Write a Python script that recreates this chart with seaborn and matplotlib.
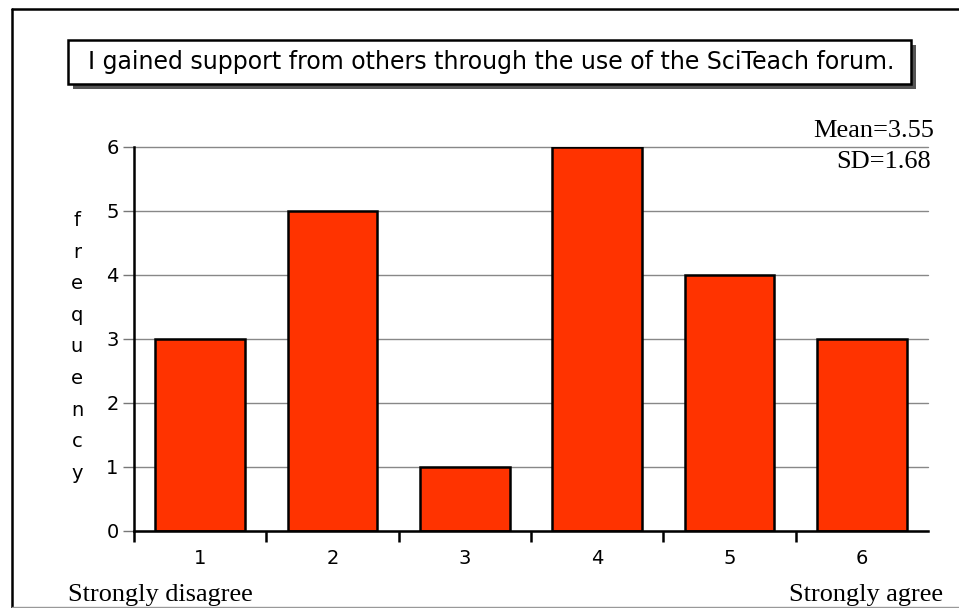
import matplotlib
matplotlib.use("Agg")
import matplotlib.pyplot as plt
from matplotlib.patches import Rectangle
from matplotlib.lines import Line2D
from matplotlib.ticker import FixedLocator
import seaborn as sns
import pandas as pd

# Survey responses for one Likert item
ratings = ["1", "2", "3", "4", "5", "6"]
frequency = [3, 5, 1, 6, 4, 3]
question = "I gained support from others through the use of the SciTeach forum."
mean_text = "Mean=3.55"
sd_text = "SD=1.68"
low_anchor = "Strongly disagree"
high_anchor = "Strongly agree"
y_ticks = [0, 1, 2, 3, 4, 5, 6]

sns.set_style("white")
plt.rcParams["font.family"] = ["DejaVu Sans"]
plt.rcParams["text.color"] = "black"
plt.rcParams["xtick.color"] = "black"
plt.rcParams["ytick.color"] = "black"
plt.rcParams["xtick.labelcolor"] = "black"
plt.rcParams["ytick.labelcolor"] = "black"

W, H = 959, 608
fig = plt.figure(figsize=(W / 100, H / 100), dpi=100)


def fx(px):
    return px / W


def fy(py):
    return 1 - py / H


# plotting area in pixel coordinates
left, right, top, bottom = 134, 928, 147, 531
ax = fig.add_axes([fx(left), fy(bottom), fx(right - left), fy(top) - fy(bottom)])

df = pd.DataFrame({"rating": ratings, "count": frequency})
sns.barplot(data=df, x="rating", y="count", color="#FF3300", saturation=1,
            edgecolor="black", linewidth=1.8, width=0.68, ax=ax, zorder=3)

ax.set_xlim(-0.5, len(ratings) - 0.5)
ax.set_ylim(0, 6)
ax.set_xlabel("")
ax.set_ylabel("")

for side in ("top", "right"):
    ax.spines[side].set_visible(False)
for side in ("left", "bottom"):
    ax.spines[side].set_linewidth(1.8)
    ax.spines[side].set_color("black")
    ax.spines[side].set_zorder(4)

ax.set_yticks(y_ticks)
ax.set_yticklabels([str(v) for v in y_ticks], fontsize=14, color="black")
ax.tick_params(axis="y", direction="out", length=8, width=1, color="#777777",
               pad=3, left=True)
ax.yaxis.grid(True, color="#888888", linewidth=1)
for gl in ax.yaxis.get_gridlines():
    gl.set_clip_on(False)
ax.set_axisbelow(True)

ax.tick_params(axis="x", which="major", length=0, pad=13, labelsize=14,
               labelcolor="black")
ax.xaxis.set_minor_locator(FixedLocator([i - 0.5 for i in range(len(ratings))]))
ax.tick_params(axis="x", which="minor", direction="out", length=8, width=1.8,
               color="black", bottom=True)

# vertical axis caption, one letter per line
fig.text(fx(77), fy(347), "\n".join("frequency"), ha="center", va="center",
         fontsize=14, linespacing=1.84)

# summary statistics
fig.text(fx(934), fy(137), mean_text, ha="right", va="baseline",
         fontsize=19, family="Liberation Serif")
fig.text(fx(931), fy(168), sd_text, ha="right", va="baseline",
         fontsize=19, family="Liberation Serif")

# scale anchors
fig.text(fx(68), fy(601), low_anchor, ha="left", va="baseline",
         fontsize=18.9, family="Liberation Serif")
fig.text(fx(943), fy(601), high_anchor, ha="right", va="baseline",
         fontsize=18.9, family="Liberation Serif")

# question box with drop shadow
bx0, by0, bx1, by1 = 68, 40, 911, 84
shadow = Rectangle((fx(bx0 + 5), fy(by1 + 5)), fx(bx1 - bx0), fy(by0) - fy(by1),
                   transform=fig.transFigure, facecolor="#555555",
                   edgecolor="none", zorder=1)
box = Rectangle((fx(bx0), fy(by1)), fx(bx1 - bx0), fy(by0) - fy(by1),
                transform=fig.transFigure, facecolor="white",
                edgecolor="black", linewidth=1.8, zorder=2)
fig.add_artist(shadow)
fig.add_artist(box)
fig.text(fx(491), fy(62), question, ha="center", va="center",
         fontsize=17, zorder=3)

# outer frame
fig.add_artist(Line2D([fx(12), fx(12)], [fy(9), fy(608)], color="black",
                      linewidth=1.8, transform=fig.transFigure))
fig.add_artist(Line2D([fx(12), fx(959)], [fy(9), fy(9)], color="black",
                      linewidth=1.8, transform=fig.transFigure))
fig.add_artist(Line2D([fx(12), fx(959)], [fy(607), fy(607)], color="#999999",
                      linewidth=1, transform=fig.transFigure))

fig.savefig("out.png", dpi=100, facecolor="white")
